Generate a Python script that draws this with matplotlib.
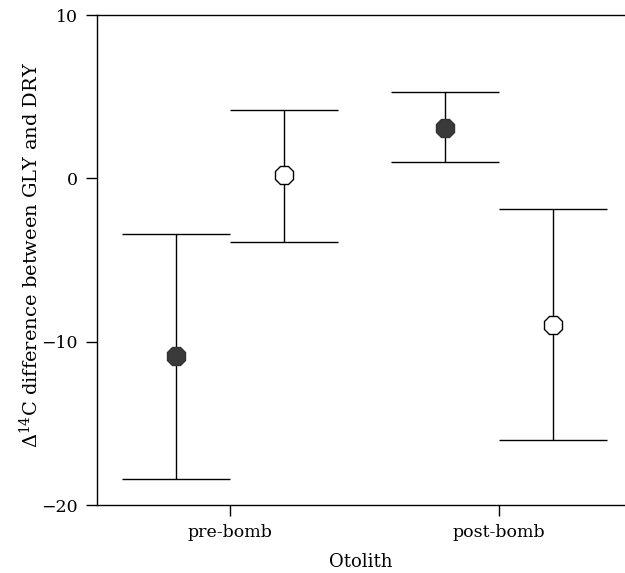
import numpy as np
import matplotlib.pyplot as plt

plt.rcParams['font.family'] = ['DejaVu Serif']
plt.rcParams['mathtext.fontset'] = 'dejavuserif'

groups = ['pre-bomb', 'post-bomb']
# filled (solid) markers and open markers per group
filled_mean = [-10.9, 3.1]
filled_lo = [-18.4, 1.0]
filled_hi = [-3.4, 5.3]
open_mean = [0.2, -9.0]
open_lo = [-3.9, -16.0]
open_hi = [4.2, -1.9]

fig = plt.figure(figsize=(6.25, 5.73), dpi=100)
ax = fig.add_axes([97/625, 68/573, 528/625, 490/573])

x = np.arange(1, len(groups) + 1)
off = 0.2

def draw(xs, m, lo, hi, face):
    m = np.array(m); lo = np.array(lo); hi = np.array(hi)
    ax.errorbar(xs, m, yerr=[m - lo, hi - m], fmt='none', ecolor='black',
                elinewidth=1, capsize=39, capthick=1)
    ax.plot(xs, m, ls='none', marker='8', markersize=14, markerfacecolor=face,
            markeredgecolor='black' if face == 'white' else '#333333', markeredgewidth=1, zorder=3)

draw(x - off, filled_mean, filled_lo, filled_hi, '#3a3a3a')
draw(x + off, open_mean, open_lo, open_hi, 'white')

ax.set_xlim(0.505, 2.468)
ax.set_ylim(-20, 10)
ax.set_xticks(x)
ax.set_xticklabels(groups)
ax.set_yticks([-20, -10, 0, 10])
ax.set_yticklabels(['\u221220', '\u221210', '0', '10'])
ax.spines['right'].set_visible(False)
for s in ax.spines.values():
    s.set_linewidth(1)
ax.tick_params(direction='out', length=8, width=1, labelsize=12.5, pad=6)
ax.set_xlabel('Otolith', fontsize=13, labelpad=8)
ax.set_ylabel('\u0394$^{14}$C difference between GLY and DRY', fontsize=14, labelpad=8)
ax.yaxis.set_label_coords(-0.105, 0.51)

fig.savefig('out.png', dpi=100)
